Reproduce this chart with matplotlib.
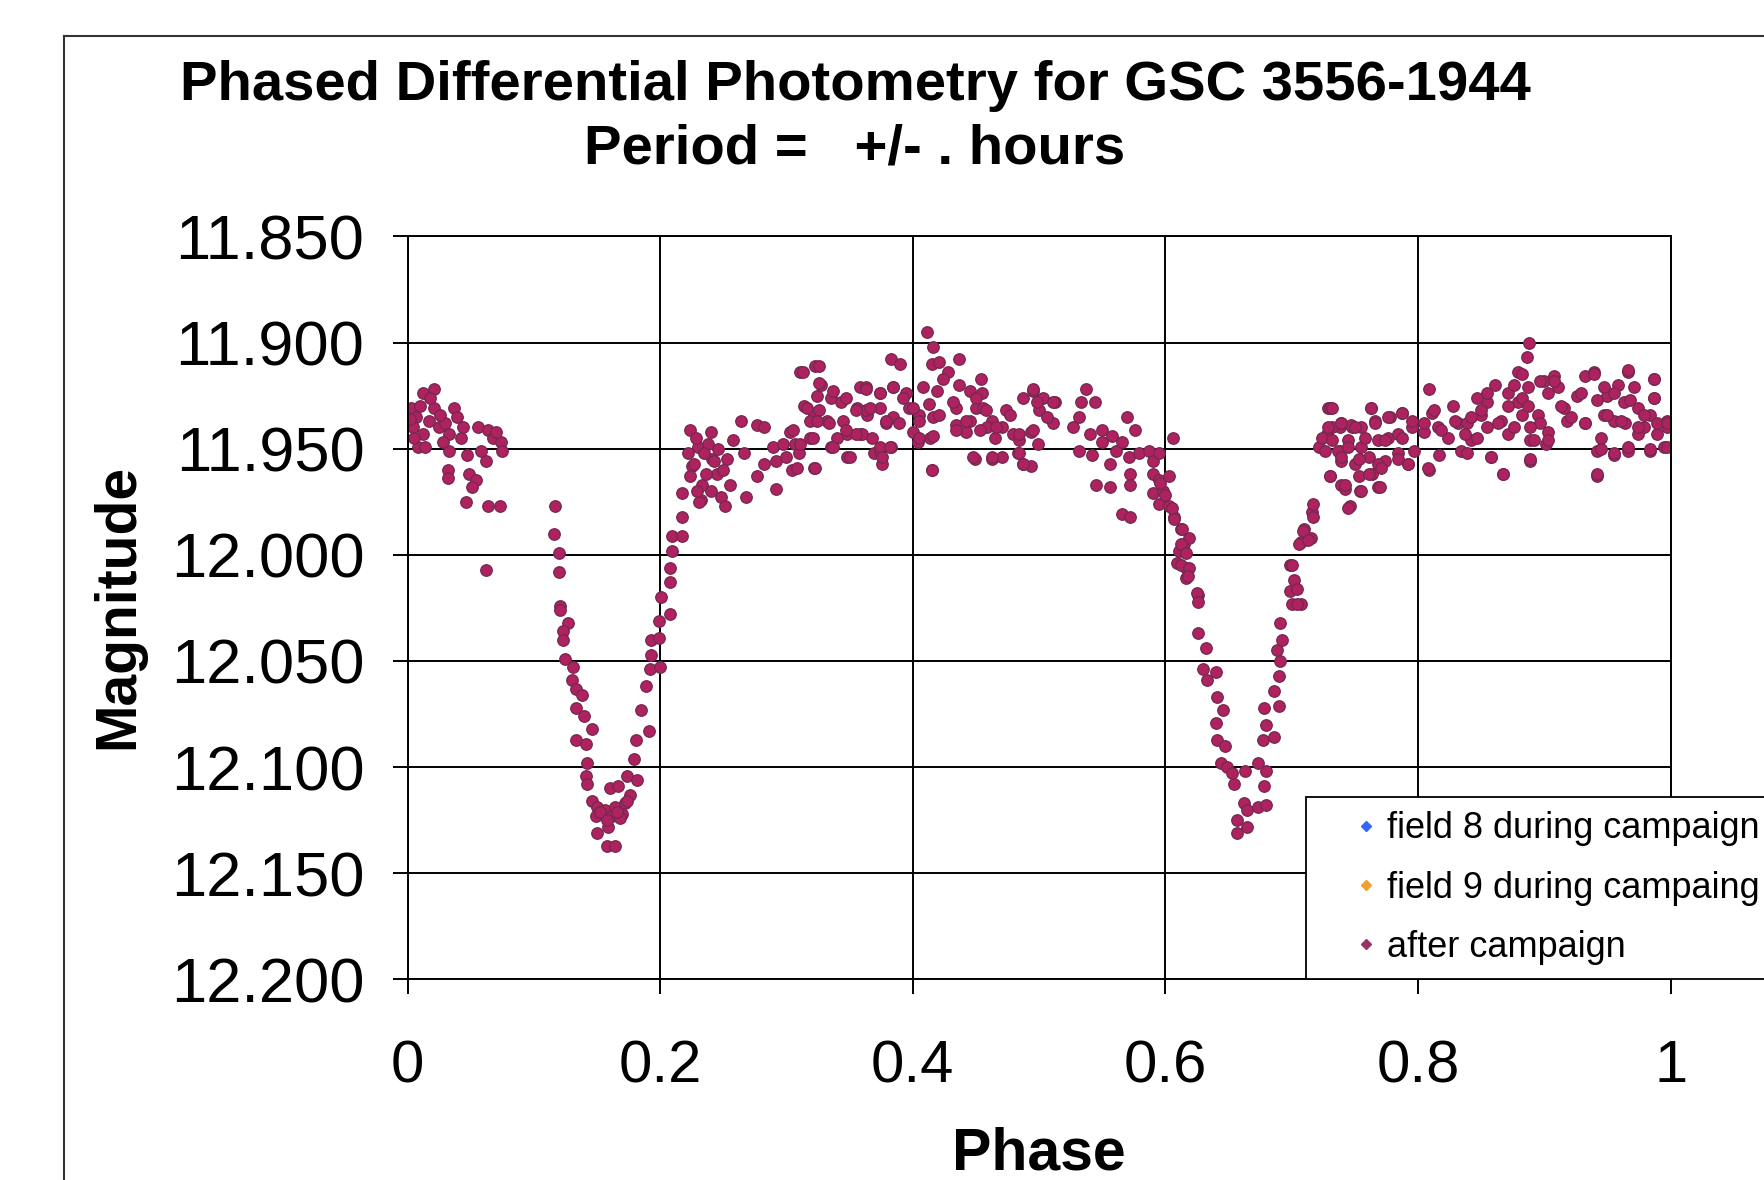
import matplotlib
matplotlib.use("Agg")
import matplotlib.pyplot as plt
from matplotlib.lines import Line2D
from matplotlib.ticker import FormatStrFormatter, FixedLocator

plt.rcParams['font.family'] = ['Liberation Sans', 'DejaVu Sans']

# --- data (phase, magnitude) ---
# out of eclipse, start of cycle
phase_start = [0.003, 0.007, 0.004, 0.012, 0.008, 0.014, 0.012, 0.021, 0.021, 0.017,
               0.025, 0.030, 0.037, 0.039, 0.033, 0.042, 0.033, 0.047, 0.056, 0.064,
               0.068, 0.074, 0.075, 0.058, 0.062, 0.032, 0.032, 0.049, 0.054, 0.051,
               0.046, 0.064, 0.073, 0.062, 0.002, 0.010, 0.018, 0.026, 0.005, 0.044,
               0.028, 0.070]
mag_start = [11.931, 11.935, 11.940, 11.943, 11.949, 11.949, 11.924, 11.922, 11.931, 11.937,
             11.940, 11.938, 11.931, 11.935, 11.943, 11.945, 11.951, 11.953, 11.940, 11.941,
             11.945, 11.947, 11.951, 11.951, 11.956, 11.960, 11.964, 11.962, 11.965, 11.968,
             11.975, 11.977, 11.977, 12.007, 11.936, 11.930, 11.926, 11.934, 11.945, 11.940,
             11.947, 11.942]

# primary eclipse
phase_primary = [0.117, 0.116, 0.120, 0.120, 0.121, 0.121, 0.127, 0.123, 0.123, 0.125,
                 0.131, 0.130, 0.133, 0.138, 0.133, 0.140, 0.146, 0.133, 0.141, 0.142,
                 0.141, 0.142, 0.146, 0.150, 0.149, 0.156, 0.160, 0.167, 0.164, 0.172,
                 0.176, 0.174, 0.182, 0.159, 0.150, 0.158, 0.164, 0.162, 0.170, 0.179,
                 0.181, 0.191, 0.185, 0.189, 0.192, 0.200, 0.193, 0.193, 0.199, 0.199,
                 0.208, 0.201, 0.208, 0.208, 0.209, 0.209, 0.217, 0.217, 0.217, 0.232,
                 0.225, 0.241, 0.152, 0.158, 0.168, 0.174, 0.166]
mag_primary = [11.977, 11.990, 11.999, 12.008, 12.024, 12.026, 12.032, 12.036, 12.040, 12.049,
               12.053, 12.059, 12.063, 12.066, 12.072, 12.076, 12.082, 12.087, 12.089, 12.098,
               12.104, 12.108, 12.116, 12.119, 12.123, 12.120, 12.110, 12.109, 12.119, 12.117,
               12.113, 12.104, 12.106, 12.128, 12.131, 12.137, 12.137, 12.123, 12.122, 12.096,
               12.087, 12.083, 12.073, 12.062, 12.054, 12.053, 12.047, 12.040, 12.039, 12.031,
               12.028, 12.020, 12.013, 12.006, 11.998, 11.991, 11.991, 11.982, 11.971, 11.974,
               11.958, 11.955, 12.121, 12.125, 12.124, 12.116, 12.121]

# plateau between the eclipses
phase_mid = [0.224, 0.240, 0.230, 0.238, 0.227, 0.243, 0.253, 0.224, 0.233, 0.240,
             0.248, 0.251, 0.231, 0.255, 0.245, 0.266, 0.264, 0.277, 0.282, 0.268,
             0.277, 0.282, 0.292, 0.292, 0.289, 0.297, 0.303, 0.304, 0.307, 0.311,
             0.323, 0.322, 0.310, 0.319, 0.314, 0.322, 0.324, 0.327, 0.319, 0.332,
             0.335, 0.335, 0.343, 0.345, 0.348, 0.348, 0.356, 0.358, 0.364, 0.358,
             0.369, 0.411, 0.416, 0.383, 0.390, 0.415, 0.421, 0.437, 0.428, 0.424,
             0.437, 0.454, 0.445, 0.455, 0.363, 0.374, 0.384, 0.395, 0.408, 0.419,
             0.363, 0.374, 0.384, 0.397, 0.405, 0.416, 0.360, 0.368, 0.379, 0.400,
             0.404, 0.414, 0.434, 0.434, 0.445, 0.450, 0.456, 0.463, 0.459, 0.442,
             0.474, 0.471, 0.479, 0.484, 0.465, 0.487, 0.495, 0.503, 0.513, 0.500,
             0.494, 0.499, 0.511, 0.527, 0.537, 0.533, 0.544, 0.532, 0.374, 0.376,
             0.383, 0.415, 0.449, 0.463, 0.471, 0.483, 0.487, 0.494, 0.532, 0.540,
             0.542, 0.550, 0.550, 0.558, 0.561, 0.556, 0.566, 0.570, 0.576, 0.571,
             0.579, 0.587, 0.590, 0.595, 0.545, 0.556, 0.572, 0.572, 0.566, 0.572,
             0.228, 0.235, 0.246, 0.236, 0.229, 0.250, 0.258, 0.222]
mag_mid = [11.941, 11.942, 11.949, 11.948, 11.957, 11.956, 11.955, 11.963, 11.967, 11.970,
           11.973, 11.977, 11.975, 11.967, 11.962, 11.952, 11.937, 11.939, 11.940, 11.973,
           11.963, 11.957, 11.956, 11.969, 11.949, 11.948, 11.942, 11.960, 11.948, 11.914,
           11.911, 11.959, 11.952, 11.945, 11.930, 11.934, 11.925, 11.920, 11.937, 11.937,
           11.949, 11.926, 11.928, 11.937, 11.943, 11.954, 11.931, 11.921, 11.934, 11.943,
           11.952, 11.895, 11.902, 11.908, 11.910, 11.910, 11.909, 11.908, 11.914, 11.917,
           11.920, 11.917, 11.923, 11.924, 11.921, 11.924, 11.921, 11.924, 11.921, 11.923,
           11.932, 11.931, 11.935, 11.931, 11.934, 11.935, 11.943, 11.945, 11.938, 11.942,
           11.947, 11.945, 11.931, 11.939, 11.937, 11.931, 11.931, 11.937, 11.940, 11.942,
           11.932, 11.940, 11.943, 11.946, 11.945, 11.926, 11.923, 11.926, 11.928, 11.932,
           11.942, 11.948, 11.938, 11.940, 11.922, 11.928, 11.928, 11.935, 11.951, 11.957,
           11.949, 11.960, 11.955, 11.955, 11.954, 11.952, 11.957, 11.958, 11.951, 11.943,
           11.953, 11.941, 11.947, 11.944, 11.951, 11.957, 11.947, 11.935, 11.941, 11.954,
           11.952, 11.951, 11.956, 11.952, 11.967, 11.968, 11.962, 11.967, 11.981, 11.982,
           11.945, 11.952, 11.950, 11.962, 11.970, 11.960, 11.946, 11.952]

# extra points in the crowded band around phase 0.3-0.5
phase_mid_band = [0.313, 0.326, 0.326, 0.337, 0.347, 0.363, 0.374, 0.384, 0.392, 0.316,
                  0.326, 0.324, 0.334, 0.355, 0.366, 0.379, 0.389, 0.400, 0.405, 0.413,
                  0.421, 0.432, 0.442, 0.450, 0.458, 0.453, 0.466, 0.477, 0.484, 0.495,
                  0.506, 0.511, 0.498, 0.495, 0.355, 0.347, 0.305, 0.311, 0.321, 0.340,
                  0.337, 0.374, 0.382, 0.405, 0.416, 0.434, 0.448, 0.463, 0.484, 0.487,
                  0.323, 0.300, 0.308, 0.415, 0.376, 0.350]
mag_mid_band = [11.914, 11.911, 11.919, 11.923, 11.926, 11.922, 11.924, 11.921, 11.926, 11.931,
                11.932, 11.937, 11.938, 11.932, 11.931, 11.937, 11.938, 11.931, 11.937, 11.929,
                11.934, 11.928, 11.937, 11.926, 11.932, 11.941, 11.940, 11.934, 11.943, 11.941,
                11.935, 11.928, 11.928, 11.922, 11.943, 11.941, 11.941, 11.948, 11.945, 11.945,
                11.949, 11.949, 11.949, 11.945, 11.944, 11.941, 11.954, 11.954, 11.952, 11.957,
                11.959, 11.954, 11.959, 11.960, 11.954, 11.954]

# secondary eclipse
phase_secondary = [0.606, 0.590, 0.595, 0.603, 0.590, 0.598, 0.595, 0.603, 0.607, 0.612,
                   0.615, 0.611, 0.609, 0.616, 0.616, 0.626, 0.596, 0.600, 0.605, 0.607,
                   0.613, 0.619, 0.612, 0.616, 0.612, 0.619, 0.618, 0.625, 0.626, 0.626,
                   0.632, 0.630, 0.633, 0.640, 0.641, 0.646, 0.640, 0.641, 0.647, 0.644,
                   0.649, 0.653, 0.654, 0.663, 0.662, 0.665, 0.673, 0.680, 0.657, 0.665,
                   0.657, 0.673, 0.680, 0.678, 0.677, 0.686, 0.680, 0.678, 0.690, 0.686,
                   0.690, 0.691, 0.688, 0.692, 0.691, 0.700, 0.707, 0.699, 0.702, 0.699,
                   0.707, 0.715, 0.710, 0.716, 0.717, 0.704, 0.704, 0.700, 0.709, 0.706,
                   0.713, 0.717]
mag_secondary = [11.945, 11.962, 11.965, 11.963, 11.971, 11.970, 11.976, 11.977, 11.982, 11.988,
                 11.995, 11.998, 12.004, 12.006, 12.011, 12.019, 11.966, 11.972, 11.978, 11.983,
                 11.988, 11.992, 11.995, 11.999, 12.005, 12.006, 12.010, 12.018, 12.022, 12.037,
                 12.044, 12.054, 12.059, 12.055, 12.067, 12.073, 12.079, 12.087, 12.090, 12.098,
                 12.100, 12.103, 12.108, 12.102, 12.117, 12.120, 12.119, 12.118, 12.125, 12.128,
                 12.131, 12.098, 12.102, 12.109, 12.087, 12.086, 12.080, 12.072, 12.071, 12.064,
                 12.057, 12.050, 12.045, 12.040, 12.032, 12.023, 12.023, 12.017, 12.012, 12.005,
                 11.994, 11.992, 11.988, 11.980, 11.976, 12.016, 12.023, 12.005, 11.989, 11.995,
                 11.993, 11.982]

# out of eclipse, end of cycle
phase_end = [0.729, 0.722, 0.728, 0.738, 0.748, 0.738, 0.730, 0.739, 0.746, 0.745,
             0.742, 0.754, 0.768, 0.730, 0.724, 0.732, 0.739, 0.747, 0.755, 0.763,
             0.766, 0.778, 0.787, 0.726, 0.737, 0.745, 0.755, 0.768, 0.776, 0.784,
             0.795, 0.739, 0.750, 0.761, 0.774, 0.784, 0.792, 0.730, 0.742, 0.755,
             0.770, 0.764, 0.753, 0.809, 0.809, 0.811, 0.805, 0.816, 0.828, 0.824,
             0.832, 0.817, 0.834, 0.842, 0.839, 0.850, 0.855, 0.861, 0.855, 0.866,
             0.871, 0.858, 0.867, 0.871, 0.879, 0.886, 0.888, 0.879, 0.887, 0.882,
             0.876, 0.889, 0.889, 0.895, 0.897, 0.903, 0.901, 0.900, 0.908, 0.911,
             0.916, 0.918, 0.926, 0.932, 0.939, 0.932, 0.945, 0.942, 0.955, 0.942,
             0.947, 0.950, 0.958, 0.966, 0.971, 0.963, 0.955, 0.964, 0.974, 0.979,
             0.987, 0.987, 0.984, 0.989, 0.997, 0.997, 0.966, 0.984, 0.995, 0.974,
             0.839, 0.847]
mag_end = [11.931, 11.949, 11.943, 11.940, 11.940, 11.951, 11.963, 11.967, 11.977, 11.978,
           11.969, 11.970, 11.968, 11.931, 11.945, 11.940, 11.938, 11.939, 11.940, 11.931,
           11.937, 11.935, 11.933, 11.951, 11.951, 11.946, 11.949, 11.946, 11.945, 11.943,
           11.940, 11.956, 11.957, 11.954, 11.956, 11.952, 11.957, 11.963, 11.967, 11.970,
           11.968, 11.962, 11.963, 11.960, 11.922, 11.933, 11.942, 11.940, 11.930, 11.945,
           11.938, 11.953, 11.951, 11.946, 11.938, 11.934, 11.928, 11.920, 11.940, 11.937,
           11.943, 11.954, 11.962, 11.924, 11.914, 11.907, 11.900, 11.928, 11.921, 11.934,
           11.940, 11.956, 11.946, 11.934, 11.938, 11.942, 11.948, 11.918, 11.916, 11.921,
           11.931, 11.937, 11.925, 11.916, 11.914, 11.938, 11.945, 11.951, 11.953, 11.963,
           11.934, 11.925, 11.920, 11.914, 11.921, 11.928, 11.937, 11.938, 11.931, 11.940,
           11.917, 11.926, 11.934, 11.943, 11.937, 11.940, 11.951, 11.951, 11.949, 11.943,
           11.952, 11.945]

# extra points in the crowded band after phase 0.72
phase_end_band = [0.732, 0.729, 0.739, 0.750, 0.763, 0.766, 0.776, 0.787, 0.795, 0.732,
                  0.745, 0.758, 0.774, 0.787, 0.797, 0.739, 0.753, 0.768, 0.784, 0.792,
                  0.761, 0.771, 0.805, 0.813, 0.818, 0.829, 0.837, 0.842, 0.850, 0.855,
                  0.847, 0.863, 0.871, 0.876, 0.882, 0.882, 0.887, 0.889, 0.897, 0.903,
                  0.908, 0.913, 0.921, 0.929, 0.932, 0.939, 0.942, 0.947, 0.950, 0.955,
                  0.961, 0.966, 0.968, 0.974, 0.979, 0.987, 0.987, 0.989, 0.997, 0.997,
                  0.966, 0.955, 0.945, 0.984, 0.892, 0.903, 0.858, 0.889, 0.867, 0.942,
                  0.808]
mag_end_band = [11.931, 11.940, 11.938, 11.940, 11.931, 11.938, 11.935, 11.933, 11.937, 11.946,
                11.949, 11.945, 11.946, 11.945, 11.951, 11.954, 11.955, 11.957, 11.955, 11.957,
                11.962, 11.959, 11.938, 11.932, 11.941, 11.937, 11.943, 11.935, 11.932, 11.924,
                11.926, 11.938, 11.930, 11.920, 11.915, 11.926, 11.930, 11.940, 11.918, 11.924,
                11.918, 11.930, 11.935, 11.924, 11.938, 11.915, 11.927, 11.921, 11.934, 11.924,
                11.937, 11.913, 11.927, 11.940, 11.934, 11.917, 11.926, 11.938, 11.938, 11.949,
                11.949, 11.952, 11.950, 11.950, 11.946, 11.946, 11.954, 11.955, 11.962, 11.962,
                11.959]

phase = (phase_start + phase_primary + phase_mid + phase_mid_band + phase_secondary
         + phase_end + phase_end_band)
magnitude = (mag_start + mag_primary + mag_mid + mag_mid_band + mag_secondary
             + mag_end + mag_end_band)

# the two campaign series have no visible points, only legend entries
field8_phase, field8_mag = [], []
field9_phase, field9_mag = [], []

series_labels = ['field 8 during campaign', 'field 9 during campaing', 'after campaign']
series_colors = ['#3366FF', '#F0A030', '#993366']

x_ticks = [0, 0.2, 0.4, 0.6, 0.8, 1]
x_tick_labels = ['0', '0.2', '0.4', '0.6', '0.8', '1']
y_ticks = [11.85, 11.90, 11.95, 12.00, 12.05, 12.10, 12.15, 12.20]

fig = plt.figure(figsize=(17.65, 11.8), dpi=100)
ax = fig.add_axes([0.2309, 0.170, 0.7156, 0.6297])

ax.plot(field8_phase, field8_mag, 'D', color=series_colors[0], ms=5)
ax.plot(field9_phase, field9_mag, 'D', color=series_colors[1], ms=5)
ax.plot(phase, magnitude, 'o', ms=8.3, mfc='#AE2260', mec='#74284F', mew=0.9)

ax.set_xlim(0, 1)
ax.set_ylim(12.20, 11.85)
ax.xaxis.set_major_locator(FixedLocator(x_ticks))
ax.set_xticklabels(x_tick_labels)
ax.yaxis.set_major_locator(FixedLocator(y_ticks))
ax.yaxis.set_major_formatter(FormatStrFormatter('%.3f'))

ax.grid(True, color='black', linewidth=1.4)
ax.set_axisbelow(True)
for sp in ax.spines.values():
    sp.set_color('black')
    sp.set_linewidth(1.4)

ax.tick_params(axis='both', direction='out', length=11, width=1.4)
ax.tick_params(axis='y', pad=20, labelsize=45.5)
ax.tick_params(axis='x', pad=32, labelsize=43)

fig.text(0.4844, 0.927, 'Phased Differential Photometry for GSC 3556-1944',
         ha='center', va='center', fontsize=40.5, fontweight='bold')
fig.text(0.4844, 0.873, 'Period =   +/- . hours',
         ha='center', va='center', fontsize=40.5, fontweight='bold')
fig.text(0.5887, 0.022, 'Phase', ha='center', va='center', fontsize=42.5, fontweight='bold')
fig.text(0.0669, 0.486, 'Magnitude', ha='center', va='center', rotation=90,
         fontsize=41, fontweight='bold')

# outer chart border (runs off the right and bottom edges)
fig.add_artist(Line2D([0.0363, 1.0], [0.9695, 0.9695], color='#333333', lw=1.5))
fig.add_artist(Line2D([0.0363, 0.0363], [0.0, 0.9695], color='#333333', lw=1.5))

handles = [Line2D([], [], ls='none', marker='D', ms=5, color=c) for c in series_colors]
leg = ax.legend(handles, series_labels, loc='upper left',
                bbox_to_anchor=(1306 / 1765, 1 - 797 / 1180), bbox_transform=fig.transFigure,
                fontsize=26, frameon=True, fancybox=False, framealpha=1,
                edgecolor='black', handlelength=2.5, handletextpad=-0.65,
                labelspacing=0.67, borderpad=0.4, borderaxespad=0)
leg.get_frame().set_linewidth(1.3)

fig.savefig('out.png', dpi=100)
